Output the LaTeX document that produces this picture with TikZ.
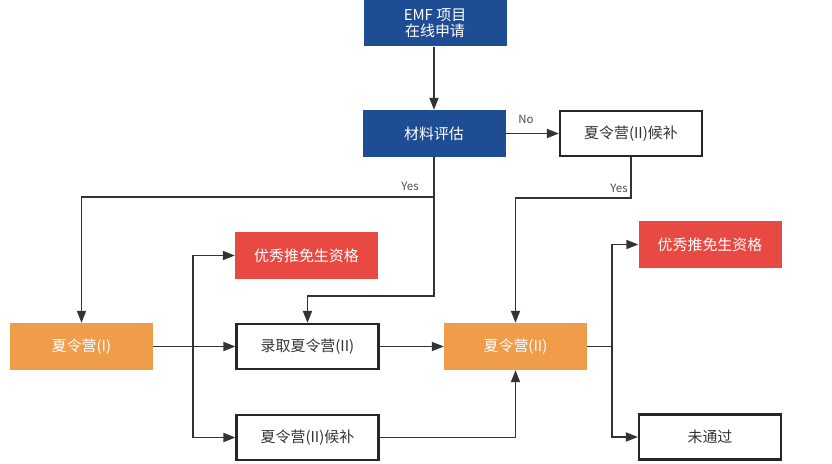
\documentclass[tikz,border=0pt]{standalone}
\usepackage{fontspec}
\setmainfont{Noto Sans CJK SC}
\usetikzlibrary{arrows.meta}
\definecolor{bluebox}{HTML}{1E4D94}
\definecolor{orangebox}{HTML}{F09D4B}
\definecolor{redbox}{HTML}{E84A43}
\definecolor{linec}{HTML}{333333}
\begin{document}
\begin{tikzpicture}[x=1bp,y=-1bp,
  box/.style={minimum width=143bp,minimum height=47bp,inner sep=0pt,font=\fontsize{15}{17}\selectfont},
  bluenode/.style={box,fill=bluebox,text=white},
  orangenode/.style={box,fill=orangebox,text=white},
  rednode/.style={box,fill=redbox,text=white},
  whitenode/.style={box,draw=black!85,line width=2.2bp,fill=white,text=black!80,minimum width=142bp,minimum height=45bp},
  conn/.style={draw=linec,line width=1.8bp},
  arr/.style={conn,-{Triangle[length=12bp,width=9bp]}},
  lbl/.style={font=\fontsize{11.5}{12}\selectfont,text=black!70,inner sep=1pt}]
\useasboundingbox (0,0) rectangle (832,464);
\node[bluenode,align=center] (emf) at (435,23) {EMF 项目\\[-1bp]在线申请};
\node[bluenode] (eval) at (434,133.5) {材料评估};
\node[whitenode] (cand1) at (631,133.5) {夏令营(II)候补};
\node[orangenode] (camp1) at (81.5,346.5) {夏令营(I)};
\node[rednode] (pri1) at (306.5,255.5) {优秀推免生资格};
\node[whitenode] (adm) at (307.5,346.5) {录取夏令营(II)};
\node[orangenode] (camp2) at (515.5,346.5) {夏令营(II)};
\node[rednode] (pri2) at (710,244.5) {优秀推免生资格};
\node[whitenode] (fail) at (710,437) {未通过};
\node[whitenode] (cand2) at (307.5,437.5) {夏令营(II)候补};
\coordinate (row1) at (0,197);
\coordinate (row1b) at (0,198);
\coordinate (row2) at (0,296);
\coordinate (br1) at (193,346.5);
\coordinate (br2) at (612,346.5);
\draw[arr] (emf.south -| eval.north) -- (eval.north);
\draw[arr] (eval.east) -- (cand1.west);
\node[lbl] (no) at (526,119) {No};
\draw[arr] (eval.south) -- (eval.south |- row1) -| (camp1.north);
\draw[arr] (eval.south) -- (eval.south |- row2) -| (adm.north);
\node[lbl] (yes1) at (410,186) {Yes};
\draw[arr] (cand1.south) -- (cand1.south |- row1b) -| (camp2.north);
\node[lbl] (yes2) at (619,188) {Yes};
\draw[arr] (camp1.east) -- (adm.west);
\draw[arr] (br1) |- (pri1.west);
\draw[arr] (br1) |- (cand2.west);
\draw[arr] (adm.east) -- (camp2.west);
\draw[arr] (cand2.east) -| (camp2.south);
\draw[conn] (camp2.east) -- (br2);
\draw[arr] (br2) |- (pri2.west);
\draw[arr] (br2) |- (fail.west);
\end{tikzpicture}
\end{document}
